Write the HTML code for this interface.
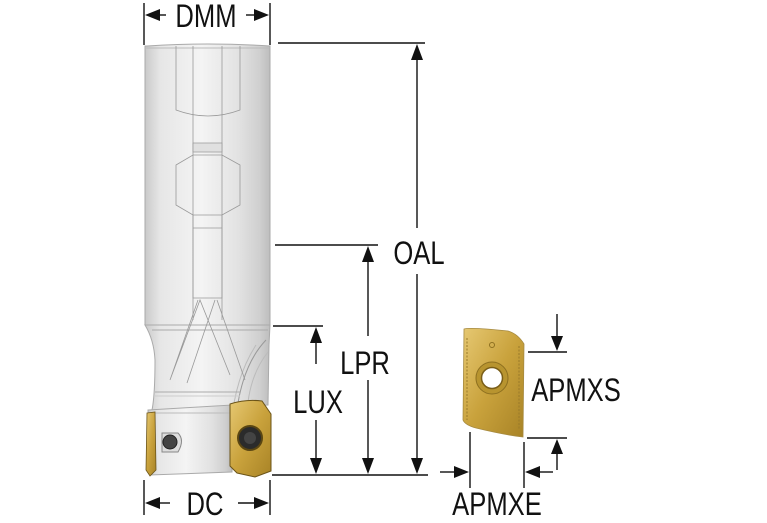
<!DOCTYPE html>
<html><head><meta charset="utf-8"><style>
html,body{margin:0;padding:0;background:#fff;}
svg{display:block;}
text{font-family:"Liberation Sans",sans-serif;fill:#111;}
</style></head><body>
<svg width="767" height="523" viewBox="0 0 767 523" xmlns="http://www.w3.org/2000/svg">
<defs>
<linearGradient id="g" x1="0" x2="1">
<stop offset="0" stop-color="#c9c9c9"/><stop offset="0.12" stop-color="#e6e6e6"/><stop offset="0.45" stop-color="#f4f4f4"/><stop offset="0.75" stop-color="#e2e2e2"/><stop offset="0.92" stop-color="#cfcfcf"/><stop offset="1" stop-color="#bdbdbd"/>
</linearGradient>
<linearGradient id="gold" x1="0" x2="1" y1="0" y2="1">
<stop offset="0" stop-color="#e6c872"/><stop offset="0.5" stop-color="#c9a23c"/><stop offset="1" stop-color="#a88326"/>
</linearGradient>
</defs>

<!-- tool body -->
<path d="M147,46 Q208,42 270,46 L270,325 L145,325 L145,46 Z" fill="url(#g)" stroke="#aaa" stroke-width="1"/>
<line x1="146" y1="48" x2="269" y2="48" stroke="#bbb"/>
<!-- neck -->
<path d="M145,325 L270,325 L269,345 L268,405 L152,410 Q155,395 155,360 Q154,340 145,325 Z" fill="url(#g)" stroke="#aaa"/>
<path d="M266,340 Q245,362 238,403" fill="none" stroke="#999"/>
<path d="M268,352 Q252,372 248,402" fill="none" stroke="#bbb"/>
<path d="M256,345 Q240,370 234,403" fill="none" stroke="#bbb"/>
<line x1="152" y1="330" x2="268" y2="330" stroke="#aaa"/>
<line x1="155" y1="392" x2="240" y2="392" stroke="#aaa"/>
<line x1="155" y1="396" x2="240" y2="396" stroke="#ccc"/>
<!-- head -->
<path d="M148,410 L232,405 L232,472 L150,475 Z" fill="url(#g)" stroke="#aaa"/>
<line x1="150" y1="413" x2="232" y2="413" stroke="#bbb"/>
<!-- internal lines -->
<g fill="none" stroke="#999" stroke-width="0.8">
<path d="M176,46 L176,110 Q208,122 240,110 L240,46"/>
<line x1="193" y1="46" x2="193" y2="320"/><line x1="222" y1="46" x2="222" y2="320"/>
<path d="M193,143 L193,152 L222,152 L222,143 Z" fill="#e0e0e0"/>
<path d="M176,165 L193,155 L222,155 L240,165 L240,205 L222,215 L193,215 L176,205 Z"/>
<path d="M193,215 L193,228 L222,228 L222,215"/>
<path d="M193,228 L193,298 L222,298 L222,228"/>
<path d="M198,300 L170,380 L200,300 L230,375 M215,300 L187,383 M217,300 L245,380"/>
</g>
<!-- left insert -->
<path d="M147,413 L155,412 L156,470 L150,476 L146,470 Z" fill="url(#gold)" stroke="#6b5418" stroke-width="0.8"/>
<!-- screw pocket -->
<path d="M162,433 L178,433 Q185,440 178,452 L162,452 Z" fill="#ddd" stroke="#888"/>
<circle cx="170" cy="442" r="7" fill="#444" stroke="#222"/>
<!-- right insert -->
<path d="M230,404 Q246,399 262,401 L271,414 L271,471 L255,477 L237,473 L230,466 Z" fill="url(#gold)" stroke="#6b5418"/>
<circle cx="250" cy="438" r="12" fill="#2b2b2b" stroke="#5a4612" stroke-width="2"/>
<circle cx="250" cy="438" r="6" fill="#444"/>

<!-- dimension lines -->
<g stroke="#111" stroke-width="1.4" fill="none">
<line x1="144" y1="3" x2="144" y2="45"/><line x1="270" y1="3" x2="270" y2="45"/>
<line x1="158" y1="15" x2="166" y2="15"/><line x1="246" y1="15" x2="256" y2="15"/>
<line x1="278" y1="43" x2="425" y2="43"/>
<line x1="275" y1="245" x2="378" y2="245"/>
<line x1="273" y1="326" x2="323" y2="326"/>
<line x1="272" y1="475" x2="428" y2="475"/>
<line x1="417" y1="58" x2="417" y2="228"/><line x1="417" y1="274" x2="417" y2="461"/>
<line x1="368" y1="260" x2="368" y2="336"/><line x1="368" y1="380" x2="368" y2="461"/>
<line x1="316" y1="341" x2="316" y2="364"/><line x1="316" y1="420" x2="316" y2="461"/>
<line x1="144" y1="480" x2="144" y2="515"/><line x1="270" y1="480" x2="270" y2="515"/>
<line x1="158" y1="503" x2="170" y2="503"/><line x1="238" y1="503" x2="256" y2="503"/>
<line x1="557" y1="314" x2="557" y2="336"/>
<line x1="528" y1="352" x2="567" y2="352"/>
<line x1="527" y1="438" x2="567" y2="438"/>
<line x1="557" y1="454" x2="557" y2="470"/>
<line x1="470" y1="432" x2="470" y2="488"/>
<line x1="524" y1="442" x2="524" y2="488"/>
<line x1="440" y1="472" x2="456" y2="472"/>
<line x1="538" y1="472" x2="553" y2="472"/>
</g>
<g fill="#111">
<polygon points="145,15 160,9 160,21"/><polygon points="269,15 254,9 254,21"/>
<polygon points="417,44 411,60 423,60"/><polygon points="417,474 411,458 423,458"/>
<polygon points="368,246 362,262 374,262"/><polygon points="368,474 362,458 374,458"/>
<polygon points="316,327 310,343 322,343"/><polygon points="316,474 310,458 322,458"/>
<polygon points="145,503 160,497 160,509"/><polygon points="269,503 254,497 254,509"/>
<polygon points="557,351 551,336 563,336"/><polygon points="557,439 551,454 563,454"/>
<polygon points="469,472 454,466 454,478"/><polygon points="525,472 540,466 540,478"/>
</g>

<!-- insert on right -->
<path d="M464,329 Q470,327 508,331 Q518,334 524,344 L523,437 Q505,435 476,428 Q465,425 463,420 Z" fill="url(#gold)" stroke="#a68a40" stroke-width="0.8"/>
<g stroke="#9a7a2a" stroke-width="1" stroke-dasharray="2 1.5">
<line x1="467" y1="338" x2="467" y2="420"/><line x1="519" y1="346" x2="519" y2="430"/>
</g>
<circle cx="492" cy="378" r="16" fill="#b8942f" stroke="#8e7020"/>
<circle cx="492" cy="378" r="10.5" fill="#fff" stroke="#7a5e18" stroke-width="1.5"/>
<circle cx="492" cy="345" r="2.5" fill="none" stroke="#8e7020"/>

<!-- labels -->
<g font-size="32">
<text x="206" y="27" text-anchor="middle" transform="translate(206 0) scale(0.8 1) translate(-206 0)">DMM</text>
<text x="419" y="264" text-anchor="middle" transform="translate(419 0) scale(0.8 1) translate(-419 0)">OAL</text>
<text x="365" y="374" text-anchor="middle" transform="translate(365 0) scale(0.8 1) translate(-365 0)">LPR</text>
<text x="318" y="413" text-anchor="middle" transform="translate(318 0) scale(0.8 1) translate(-318 0)">LUX</text>
<text x="205" y="515" text-anchor="middle" transform="translate(205 0) scale(0.8 1) translate(-205 0)">DC</text>
<text x="576" y="401" text-anchor="middle" transform="translate(576 0) scale(0.8 1) translate(-576 0)">APMXS</text>
<text x="497" y="515" text-anchor="middle" transform="translate(497 0) scale(0.8 1) translate(-497 0)">APMXE</text>
</g>
</svg>
</body></html>
